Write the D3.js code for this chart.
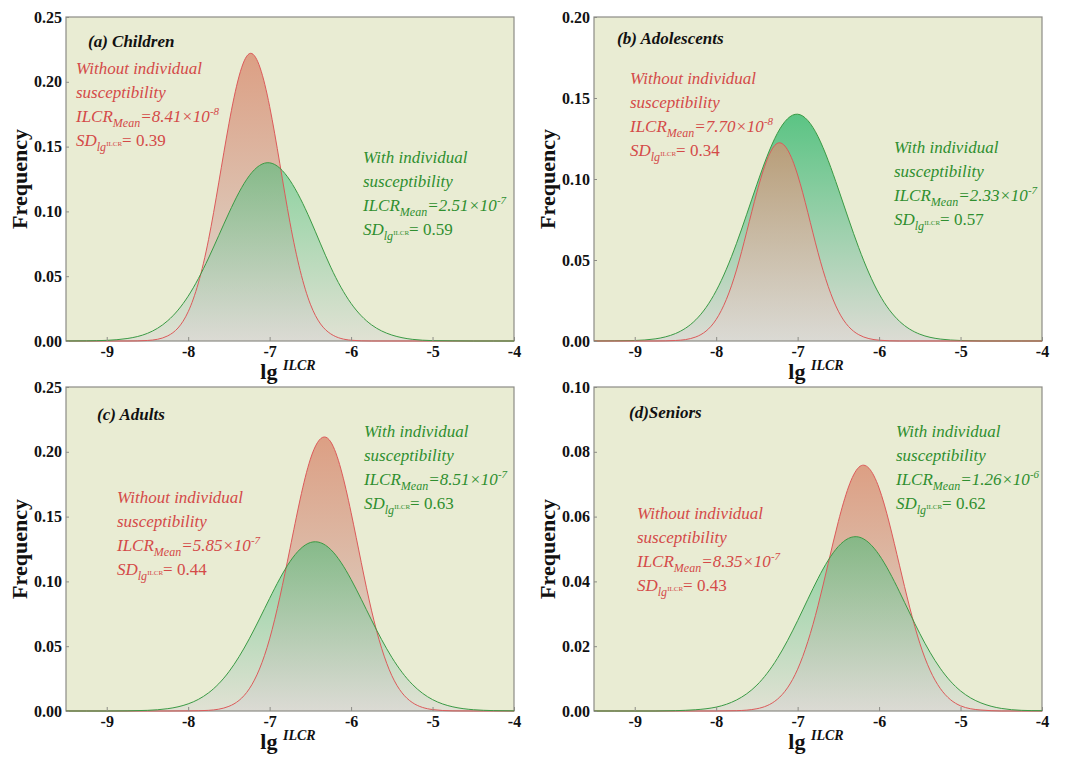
<!DOCTYPE html>
<html>
<head>
<meta charset="utf-8">
<script src="https://cdn.jsdelivr.net/npm/d3@7"></script>
<style>
  body { margin: 0; background: #fff; }
  svg { display: block; }
  svg text { font-family: "Liberation Serif", "Times New Roman", "DejaVu Serif", serif; }
</style>
</head>
<body>
<svg id="chart" width="1070" height="762"></svg>
<script>
'use strict';

// lg(ILCR) sample positions shared by every curve
var xGrid = [-9.5, -9.25, -9, -8.75, -8.5, -8.25, -8, -7.75, -7.5, -7.25, -7, -6.75,
             -6.5, -6.25, -6, -5.75, -5.5, -5.25, -5, -4.75, -4.5, -4.25, -4];

// frequencies
var childrenWithout = [0, 0, 0, 0, 0.0004, 0.0040, 0.0226, 0.0782, 0.1676, 0.2217, 0.1810, 0.0913,
                       0.0284, 0.0055, 0.0006, 0, 0, 0, 0, 0, 0, 0, 0];
var childrenWith    = [0, 0.0001, 0.0005, 0.0019, 0.0059, 0.0157, 0.0346, 0.0640, 0.0988, 0.1275, 0.1375, 0.1239,
                       0.0934, 0.0570, 0.0290, 0.0125, 0.0046, 0.0013, 0.0003, 0.0001, 0, 0, 0];
var adolescentsWithout = [0, 0, 0, 0, 0.0003, 0.0025, 0.0133, 0.0439, 0.0919, 0.1220, 0.1025, 0.0546,
                          0.0184, 0.0039, 0.0005, 0, 0, 0, 0, 0, 0, 0, 0];
var adolescentsWith    = [0, 0.0001, 0.0003, 0.0013, 0.0046, 0.0131, 0.0310, 0.0603, 0.0967, 0.1281, 0.1400, 0.1262,
                          0.0938, 0.0576, 0.0291, 0.0122, 0.0042, 0.0012, 0.0003, 0, 0, 0, 0];
var adultsWithout = [0, 0, 0, 0, 0, 0, 0.0001, 0.0005, 0.0036, 0.0171, 0.0557, 0.1253,
                     0.1943, 0.2077, 0.1531, 0.0778, 0.0273, 0.0066, 0.0011, 0.0001, 0, 0, 0];
var adultsWith    = [0, 0, 0, 0.0001, 0.0005, 0.0018, 0.0055, 0.0140, 0.0303, 0.0557, 0.0869, 0.1153,
                     0.1300, 0.1246, 0.1015, 0.0703, 0.0414, 0.0207, 0.0088, 0.0032, 0.0010, 0.0003, 0.0001];
var seniorsWithout = [0, 0, 0, 0, 0, 0, 0, 0.0001, 0.0007, 0.0036, 0.0129, 0.0325,
                      0.0585, 0.0752, 0.0688, 0.0450, 0.0209, 0.0070, 0.0016, 0.0003, 0, 0, 0];
var seniorsWith    = [0, 0, 0, 0, 0.0001, 0.0004, 0.0012, 0.0034, 0.0080, 0.0162, 0.0279, 0.0409,
                      0.0508, 0.0537, 0.0482, 0.0368, 0.0239, 0.0132, 0.0062, 0.0025, 0.0008, 0.0002, 0.0001];

var xTicks = [-9, -8, -7, -6, -5, -4];
var yTicksA = [0, 0.05, 0.10, 0.15, 0.20, 0.25];
var yTicksB = [0, 0.05, 0.10, 0.15, 0.20];
var yTicksC = [0, 0.05, 0.10, 0.15, 0.20, 0.25];
var yTicksD = [0, 0.02, 0.04, 0.06, 0.08, 0.10];

var panelTitles = ['(a) Children', '(b) Adolescents', '(c) Adults', '(d)Seniors'];
var meanWithout = ['8.41×10', '7.70×10', '5.85×10', '8.35×10'];
var expWithout  = ['-8', '-8', '-7', '-7'];
var sdWithout   = ['0.39', '0.34', '0.44', '0.43'];
var meanWith    = ['2.51×10', '2.33×10', '8.51×10', '1.26×10'];
var expWith     = ['-7', '-7', '-7', '-6'];
var sdWith      = ['0.59', '0.57', '0.63', '0.62'];

var RED = '#dc5a5a', GREEN = '#3a9a44';
var RED_TXT = '#d44a48', GREEN_TXT = '#2f8f2f';

var svg = d3.select('#chart');

// layout of the four panels
var panels = [
  { left: 66,  top: 17,  without: childrenWithout,    with: childrenWith,    ticks: yTicksA, greenOnTop: true,
    title: [88, 47],  red: [76, 74],   green: [363, 163] },
  { left: 594, top: 17,  without: adolescentsWithout, with: adolescentsWith, ticks: yTicksB, greenOnTop: false,
    title: [617, 44], red: [630, 84],  green: [894, 153] },
  { left: 66,  top: 387, without: adultsWithout,      with: adultsWith,      ticks: yTicksC, greenOnTop: true,
    title: [97, 420], red: [117, 503], green: [364, 437] },
  { left: 594, top: 387, without: seniorsWithout,     with: seniorsWith,     ticks: yTicksD, greenOnTop: true,
    title: [629, 418], red: [637, 519], green: [896, 437] }
];
var W = 448, H = 324;

var defs = svg.append('defs');
function gradient(id, top) {
  var g = defs.append('linearGradient').attr('id', id)
    .attr('x1', 0).attr('y1', 0).attr('x2', 0).attr('y2', 1);
  g.append('stop').attr('offset', '0%').attr('stop-color', top);
  g.append('stop').attr('offset', '100%').attr('stop-color', '#dad9d4');
}
gradient('gradRed', '#d98c70');
gradient('gradGreen', '#42bd76');

function annotation(g, pos, color, head, mean, exp, sd) {
  var t = g.append('g').attr('fill', color).style('font-size', '17px');
  var lh = 24;
  t.append('text').attr('x', pos[0]).attr('y', pos[1]).style('font-style', 'italic').text(head);
  t.append('text').attr('x', pos[0]).attr('y', pos[1] + lh).style('font-style', 'italic').text('susceptibility');
  var l3 = t.append('text').attr('x', pos[0]).attr('y', pos[1] + lh * 2).style('font-style', 'italic');
  l3.append('tspan').text('ILCR');
  l3.append('tspan').attr('dy', 5).style('font-size', '12px').text('Mean');
  l3.append('tspan').attr('dy', -5).text('=' + mean);
  l3.append('tspan').attr('dy', -7).style('font-size', '11px').text(exp);
  var l4 = t.append('text').attr('x', pos[0]).attr('y', pos[1] + lh * 3);
  l4.append('tspan').style('font-style', 'italic').text('SD');
  l4.append('tspan').attr('dy', 5).style('font-style', 'italic').style('font-size', '12px').text('lg');
  l4.append('tspan').attr('dy', -5).style('font-size', '7px').text('ILCR');
  l4.append('tspan').text('= ' + sd);
}

panels.forEach(function(p, i) {
  var x = d3.scaleLinear().domain([-9.5, -4]).range([p.left, p.left + W]);
  var y = d3.scaleLinear().domain([0, d3.max(p.ticks)]).range([p.top + H, p.top]);
  var g = svg.append('g');

  g.append('rect')
    .attr('x', p.left).attr('y', p.top).attr('width', W).attr('height', H)
    .attr('fill', '#e9ecd3');

  defs.append('clipPath').attr('id', 'clip' + i)
    .append('rect').attr('x', p.left).attr('y', p.top).attr('width', W).attr('height', H + 1);

  var curve = d3.curveNatural;
  var area = d3.area()
    .x(function(d, j) { return x(xGrid[j]); })
    .y0(y(0))
    .y1(function(d) { return Math.max(0, y(d) <= y(0) ? y(d) : y(0)); })
    .curve(curve);
  var line = d3.line()
    .x(function(d, j) { return x(xGrid[j]); })
    .y(function(d) { return y(d); })
    .curve(curve);

  var series = [
    { values: p.without, fill: 'url(#gradRed)', stroke: RED, op: 0.8 },
    { values: p.with, fill: 'url(#gradGreen)', stroke: GREEN, op: 0.56 }
  ];
  if (!p.greenOnTop) { series.reverse(); series[0].op = 0.85; series[1].op = 0.7; }

  g.append('g').attr('clip-path', 'url(#clip' + i + ')')
    .selectAll('path').data(series).join('path')
    .attr('d', function(s) { return area(s.values); })
    .attr('fill', function(s) { return s.fill; })
    .attr('fill-opacity', function(s) { return s.op; });

  g.append('rect')
    .attr('x', p.left).attr('y', p.top).attr('width', W).attr('height', H)
    .attr('fill', 'none').attr('stroke', '#8c8c86').attr('stroke-width', 1.2);

  g.append('g').attr('clip-path', 'url(#clip' + i + ')')
    .selectAll('path').data(series).join('path')
    .attr('d', function(s) { return line(s.values); })
    .attr('fill', 'none')
    .attr('stroke', function(s) { return s.stroke; })
    .attr('stroke-width', 1);

  var xAxis = g.append('g')
    .attr('transform', 'translate(0,' + (p.top + H) + ')')
    .call(d3.axisBottom(x).tickValues(xTicks).tickSizeInner(-4).tickSizeOuter(0).tickPadding(5)
      .tickFormat(d3.format('d')));
  var yAxis = g.append('g')
    .attr('transform', 'translate(' + p.left + ',0)')
    .call(d3.axisLeft(y).tickValues(p.ticks).tickSizeInner(-3).tickSizeOuter(0).tickPadding(4)
      .tickFormat(d3.format('.2f')));
  [xAxis, yAxis].forEach(function(a) {
    a.attr('font-family', null);
    a.select('.domain').remove();
    a.selectAll('line').attr('stroke', '#8c8c86');
    a.selectAll('text').attr('fill', '#111')
      .style('font-size', '16px').style('font-weight', 'bold');
  });
  xAxis.selectAll('text').text(function(d) { return String(d).replace('\u2212', '-'); });

  // axis titles
  svg.append('text')
    .attr('transform', 'translate(' + (p.left - 39) + ',' + (p.top + H / 2) + ') rotate(-90)')
    .attr('text-anchor', 'middle')
    .style('font-size', '22px').style('font-weight', 'bold').attr('fill', '#111')
    .text('Frequency');
  var xl = svg.append('text')
    .attr('x', p.left + W / 2 - 2).attr('y', p.top + H + 38)
    .attr('text-anchor', 'middle').attr('fill', '#111');
  xl.append('tspan').style('font-size', '22px').style('font-weight', 'bold').text('lg ');
  xl.append('tspan').attr('dy', -9).style('font-size', '14px').style('font-weight', 'bold')
    .style('font-style', 'italic').text('ILCR');

  // panel texts
  g.append('text').attr('x', p.title[0]).attr('y', p.title[1])
    .style('font-size', '17px').style('font-weight', 'bold').style('font-style', 'italic')
    .attr('fill', '#111').text(panelTitles[i]);
  annotation(g, p.red, RED_TXT, 'Without individual', meanWithout[i], expWithout[i], sdWithout[i]);
  annotation(g, p.green, GREEN_TXT, 'With individual', meanWith[i], expWith[i], sdWith[i]);
});
</script>
</body>
</html>
